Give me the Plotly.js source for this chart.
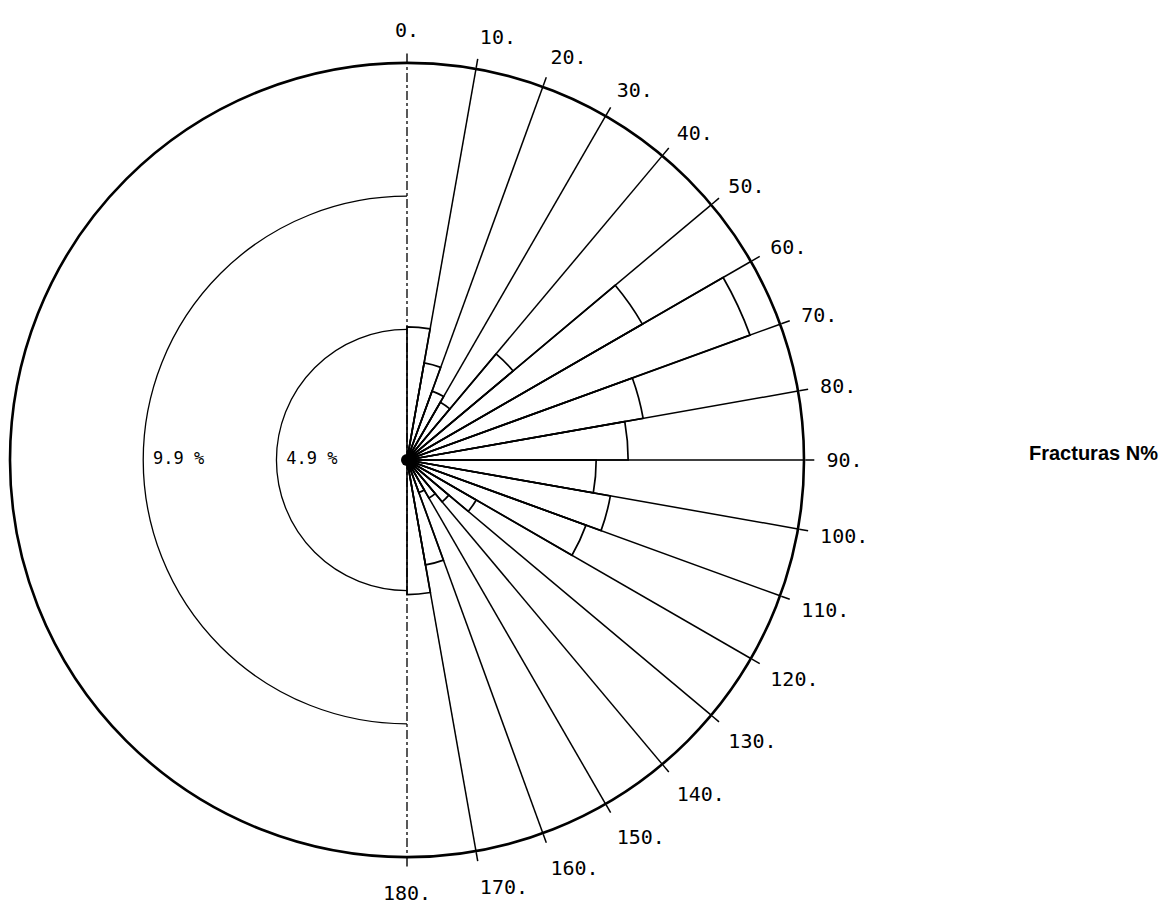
<!DOCTYPE html>
<html>
<head>
<meta charset="utf-8">
<script src="https://cdn.plot.ly/plotly-3.0.1.min.js"></script>
<style>html,body{margin:0;padding:0;background:#fff;}#chart{width:1171px;height:911px;}</style>
</head>
<body>
<div id="chart"></div>
<script>
// Sector centres (degrees, 10° classes 0-180) and fracture frequency (%)
const sectorCenters = [5, 15, 25, 35, 45, 55, 65, 75, 85, 95, 105, 115, 125, 135, 145, 155, 165, 175];
const frequencies   = [5.0, 3.7, 2.75, 2.5, 5.2, 10.2, 13.7, 9.0, 8.3, 7.1, 7.75, 7.15, 3.0, 2.05, 1.65, 1.3, 4.0, 5.05];

// Direction grid lines (right half, solid)
const directionTicks  = [10, 20, 30, 40, 50, 60, 70, 80, 90, 100, 110, 120, 130, 140, 150, 160, 170];

// All direction labels 0-180
const labelTicks = [0, 10, 20, 30, 40, 50, 60, 70, 80, 90, 100, 110, 120, 130, 140, 150, 160, 170, 180];
const labelText  = ["0.", "10.", "20.", "30.", "40.", "50.", "60.", "70.", "80.", "90.", "100.", "110.", "120.", "130.", "140.", "150.", "160.", "170.", "180."];

// N-S axis (drawn on the left-half subplot, screen angles)
const axisTicks  = [90, 270];

// Reference rings
const ringValues = [9.9, 4.9];
const ringLabels = ["9.9 %", "4.9 %"];
const radialMax = 14.9;

const W = 1171, H = 911;
const cx = 407, cy = 460, R = 397;
const dx0 = (cx - R) / W, dx1 = (cx + R) / W, dxc = cx / W;
const dy0 = 1 - (cy + R) / H, dy1 = 1 - (cy - R) / H;

const mono = "DejaVu Sans Mono, monospace";

const traces = [
  {
    type: 'barpolar', subplot: 'polar',
    theta: sectorCenters, r: frequencies, width: 10,
    marker: {color: 'rgba(0,0,0,0)', line: {color: '#000', width: 1.7}},
    hoverinfo: 'skip', showlegend: false
  },
  {
    type: 'scatterpolar', subplot: 'polar2', mode: 'markers+text',
    theta: [180, 180], r: ringValues, text: ringLabels,
    textposition: 'middle right',
    marker: {size: 14, color: 'rgba(0,0,0,0)'},
    textfont: {family: mono, size: 17, color: '#000'},
    hoverinfo: 'skip', showlegend: false
  },
  {
    type: 'scatterpolar', subplot: 'polar3', mode: 'markers',
    theta: [0], r: [0],
    marker: {color: '#000', size: 12},
    hoverinfo: 'skip', showlegend: false
  }
];

const layout = {
  width: W, height: H,
  margin: {l: 0, r: 0, t: 0, b: 0},
  paper_bgcolor: '#fff',
  showlegend: false,
  polar: {
    domain: {x: [dx0, dx1], y: [dy0, dy1]},
    bgcolor: '#fff',
    radialaxis: {visible: false, range: [0, radialMax], showgrid: false},
    angularaxis: {
      rotation: 90, direction: 'clockwise',
      tickmode: 'array', tickvals: directionTicks, showticklabels: false,
      showgrid: true, gridcolor: '#000', gridwidth: 1.5,
      showline: true, linecolor: '#000', linewidth: 2.6,
      ticks: 'outside', ticklen: 9, tickcolor: '#000', tickwidth: 1.5
    }
  },
  polar2: {
    domain: {x: [dx0, dxc], y: [dy0, dy1]},
    sector: [90, 270],
    bgcolor: 'rgba(0,0,0,0)',
    radialaxis: {
      range: [0, radialMax], showline: false, showticklabels: false, ticks: '',
      tickmode: 'array', tickvals: ringValues,
      showgrid: true, gridcolor: '#000', gridwidth: 1.3
    },
    angularaxis: {
      rotation: 0, direction: 'counterclockwise',
      showline: false, showticklabels: false,
      tickmode: 'array', tickvals: axisTicks,
      showgrid: true, gridcolor: '#000', gridwidth: 1.3, griddash: 'dashdot',
      ticks: 'outside', ticklen: 9, tickcolor: '#000', tickwidth: 1.4
    }
  },
  polar3: {
    domain: {x: [dx0, dx1], y: [dy0, dy1]},
    bgcolor: 'rgba(0,0,0,0)',
    radialaxis: {visible: false, range: [0, radialMax], showgrid: false},
    angularaxis: {
      rotation: 90, direction: 'clockwise',
      tickmode: 'array', tickvals: labelTicks, ticktext: labelText,
      showgrid: false, showline: false,
      ticks: 'outside', ticklen: 18, tickcolor: 'rgba(0,0,0,0)',
      tickfont: {family: mono, size: 20, color: '#000'}
    }
  },
  annotations: [{
    xref: 'paper', yref: 'paper', x: 1027 / W, y: 1 - 453 / H,
    xanchor: 'left', yanchor: 'middle', showarrow: false,
    text: '<b>Fracturas N%</b>',
    font: {family: 'Liberation Sans, Arial, sans-serif', size: 20, color: '#000'}
  }]
};

Plotly.newPlot('chart', traces, layout, {displayModeBar: false, staticPlot: true});
</script>
</body>
</html>
